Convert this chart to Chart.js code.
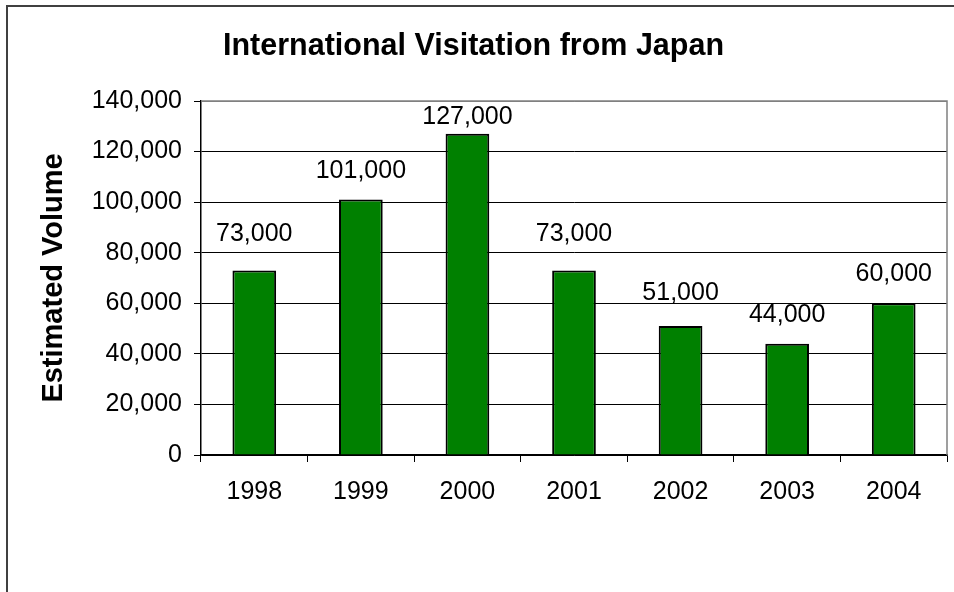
<!DOCTYPE html>
<html>
<head>
<meta charset="utf-8">
<title>International Visitation from Japan</title>
<script src="https://cdn.jsdelivr.net/npm/chart.js@4.4.1/dist/chart.umd.min.js"></script>
<style>
	html, body { margin: 0; padding: 0; background: #fff; overflow: hidden; }
	#frame {
		position: absolute; left: 6px; top: 5px;
		width: 1000px; height: 700px;
		border: 2px solid #404040;
	}
	#wrap { position: absolute; left: 0; top: 0; width: 954px; height: 592px; }
</style>
</head>
<body>
<div id="frame"></div>
<div id="wrap"><canvas id="chart"></canvas></div>
<script>
const years = ['1998', '1999', '2000', '2001', '2002', '2003', '2004'];
const visitors = [73000, 101000, 127000, 73000, 51000, 44000, 60000];
const yTicks = [0, 20000, 40000, 60000, 80000, 100000, 120000, 140000];

const FONT = 'Liberation Sans, Arial, sans-serif';
const fmt = (v) => Number(v).toLocaleString('en-US');

// value labels sit above each bar; lift (px) per bar as placed in the layout
const labelLift = [36, 29, 17, 36, 33, 29, 29];

const valueLabels = {
	id: 'valueLabels',
	afterDatasetsDraw(chart) {
		const {ctx} = chart;
		const meta = chart.getDatasetMeta(0);
		ctx.save();
		ctx.font = `25px ${FONT}`;
		ctx.fillStyle = '#000';
		ctx.textAlign = 'center';
		ctx.textBaseline = 'middle';
		meta.data.forEach((bar, i) => {
			ctx.fillText(fmt(visitors[i]), bar.x, bar.y - labelLift[i]);
		});
		ctx.restore();
	},
};

// gray top/right edges of the plot area
const plotEdge = {
	id: 'plotEdge',
	beforeDatasetsDraw(chart) {
		const {ctx, chartArea: a} = chart;
		ctx.save();
		ctx.strokeStyle = '#808080';
		ctx.lineWidth = 1.5;
		ctx.beginPath();
		ctx.moveTo(a.left, a.top);
		ctx.lineTo(a.right, a.top);
		ctx.lineTo(a.right, a.bottom);
		ctx.stroke();
		ctx.restore();
	},
};

new Chart(document.querySelector('#chart'), {
	type: 'bar',
	data: {
		labels: years,
		datasets: [{
			data: visitors,
			backgroundColor: '#008000',
			borderColor: '#000',
			borderWidth: 2,
			barPercentage: 0.41,
			categoryPercentage: 1,
		}],
	},
	options: {
		responsive: true,
		maintainAspectRatio: false,
		animation: false,
		layout: {padding: {left: 0, right: 7, top: 0, bottom: 0}},
		plugins: {
			legend: {display: false},
			tooltip: {enabled: false},
			title: {
				display: true,
				text: 'International Visitation from Japan',
				color: '#000',
				font: {family: FONT, size: 30.5, weight: 'bold', lineHeight: 1.2},
				padding: {top: 28, bottom: 36.4},
			},
		},
		scales: {
			x: {
				grid: {
					offset: true,
					drawOnChartArea: false,
					drawTicks: true,
					tickLength: 7,
					color: '#000',
				},
				border: {color: '#000', width: 1.5},
				ticks: {
					color: '#000',
					padding: 15,
					font: {family: FONT, size: 25},
				},
				afterFit: (scale) => { scale.height = 137; },
			},
			y: {
				min: 0,
				max: 140000,
				afterBuildTicks: (scale) => {
					scale.ticks = yTicks.map((value) => ({value}));
				},
				grid: {
					color: (c) => (c.tick && c.tick.value === 140000 ? '#808080' : '#000'),
					tickColor: '#000',
					lineWidth: 1,
					tickLength: 7,
				},
				border: {color: '#000', width: 1.5},
				ticks: {
					color: '#000',
					padding: 12,
					font: {family: FONT, size: 25},
					callback: (v) => fmt(v),
				},
				title: {
					display: true,
					text: 'Estimated Volume',
					color: '#000',
					font: {family: FONT, size: 29, weight: 'bold', lineHeight: 1.2},
					padding: {top: 37, bottom: 0},
				},
				afterFit: (scale) => { scale.width = 201; },
			},
		},
	},
	plugins: [plotEdge, valueLabels],
});
</script>
</body>
</html>
